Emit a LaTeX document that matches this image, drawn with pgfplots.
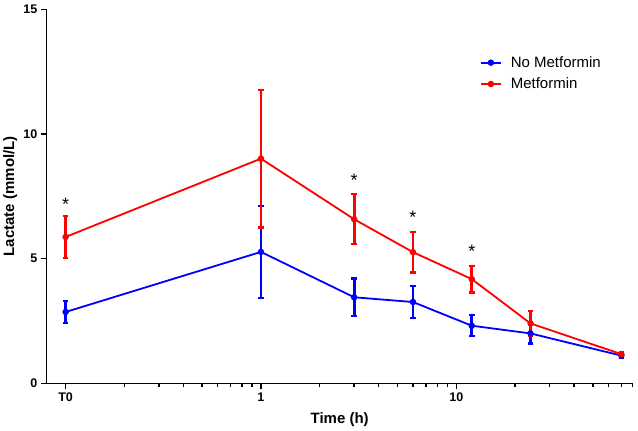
\documentclass[border=0pt]{standalone}
\usepackage{fontspec}
\setmainfont{Liberation Sans}
\usepackage{pgfplots}
\pgfplotsset{compat=1.18}
\pgfplotstableread{
x y e
0.1 2.86 0.43
1 5.27 1.85
3 3.45 0.75
6 3.26 0.65
12 2.31 0.42
24 2.00 0.40
70 1.11 0.08
}\nomet
\pgfplotstableread{
x y e
0.1 5.87 0.84
1 9.01 2.76
3 6.58 1.00
6 5.26 0.82
12 4.18 0.54
24 2.40 0.50
70 1.17 0.10
}\met
\begin{document}
\begin{tikzpicture}
\path[use as bounding box] (-46.7bp,-47.7bp) rectangle (591.3bp,383.3bp);
\begin{axis}[
  scale only axis, width=586bp, height=374bp,
  xmode=log, xmin=0.08, xmax=80, ymin=0, ymax=15,
  axis lines=left, axis line style={line width=1.6bp, -},
  xtick={0.1,1,10}, xticklabels={T0,1,10},
  minor xtick={0.2,0.3,0.4,0.5,0.6,0.7,0.8,0.9,2,3,4,5,6,7,8,9,20,30,40,50,60,70,80},
  ytick={0,5,10,15},
  tick align=outside, major tick length=6bp, minor tick length=3.5bp,
  every tick/.style={line width=1.4bp, black},
  ticklabel style={font=\fontsize{12.5bp}{14bp}\selectfont\bfseries},
  /pgf/number format/assume math mode=true,
  xlabel={Time (h)}, ylabel={Lactate (mmol/L)},
  label style={font=\fontsize{15bp}{18bp}\selectfont\bfseries},
  xlabel style={at={(rel axis cs:0.5,0)}, anchor=center, yshift=-36bp},
  ylabel style={at={(rel axis cs:0,0.5)}, anchor=center, yshift=36.5bp},
  clip=false,
  legend style={at={(0.734,0.885)}, anchor=north west, draw=none, fill=none,
    font=\fontsize{15bp}{18bp}\selectfont, row sep=5bp},
  legend cell align=left,
  legend image code/.code={\draw[mark repeat=2,mark phase=2] plot coordinates {(0bp,0bp)(10bp,0bp)(20bp,0bp)}; \path (27bp,0bp);},
]
\addplot[color=blue, line width=1.8bp, mark=*, mark size=2.3bp, mark options={solid},
  error bars/.cd, y dir=both, y explicit,
  error bar style={line width=2.9bp, blue},
  error mark options={rotate=90, mark size=2.8bp, line width=2.2bp, blue}]
  table[x=x, y=y, y error=e] {\nomet};
\addlegendentry{No Metformin}
\addplot[color=red, line width=1.8bp, mark=*, mark size=2.3bp, mark options={solid},
  error bars/.cd, y dir=both, y explicit,
  error bar style={line width=2.9bp, red},
  error mark options={rotate=90, mark size=2.8bp, line width=2.2bp, red}]
  table[x=x, y=y, y error=e] {\met};
\addlegendentry{Metformin}
\node[anchor=base, font=\fontsize{18bp}{20bp}\selectfont] at (axis cs:0.1,6.95) {*};
\node[anchor=base, font=\fontsize{18bp}{20bp}\selectfont] at (axis cs:3,7.90) {*};
\node[anchor=base, font=\fontsize{18bp}{20bp}\selectfont] at (axis cs:6,6.39) {*};
\node[anchor=base, font=\fontsize{18bp}{20bp}\selectfont] at (axis cs:12,5.06) {*};
\end{axis}
\end{tikzpicture}
\end{document}
